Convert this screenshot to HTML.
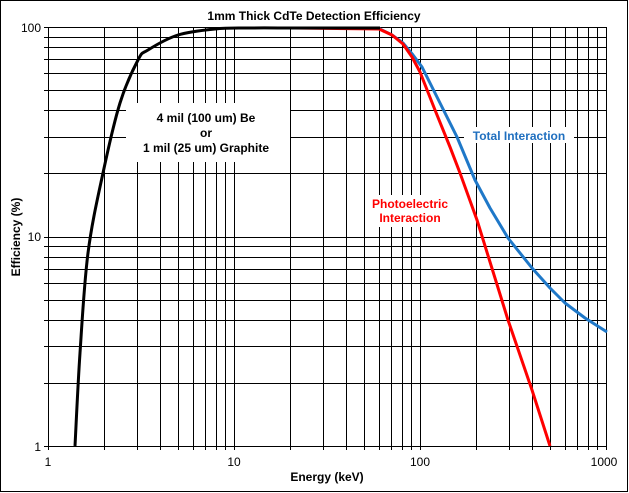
<!DOCTYPE html>
<html><head><style>
html,body{margin:0;padding:0;background:#fff;width:629px;height:493px;overflow:hidden}
svg{display:block;font-family:"Liberation Sans",Arial,sans-serif}
</style></head><body>
<svg id="s" width="629" height="493" viewBox="0 0 629 493">
<rect x="0.5" y="0.5" width="627" height="491" fill="#fff" stroke="#000" stroke-width="1"/>
<g id="grid" stroke="#000" stroke-width="1"></g>
<text x="314" y="20" font-size="12" font-weight="bold" text-anchor="middle">1mm Thick CdTe Detection Efficiency</text>
<text x="41" y="32" font-size="12" text-anchor="end" fill="#000">100</text>
<text x="41" y="241" font-size="12" text-anchor="end">10</text>
<text x="41" y="451" font-size="12" text-anchor="end">1</text>
<text x="48" y="466" font-size="12" text-anchor="middle">1</text>
<text x="234" y="466" font-size="12" text-anchor="middle">10</text>
<text x="420" y="466" font-size="12" text-anchor="middle">100</text>
<text x="604" y="466" font-size="12" text-anchor="middle">1000</text>
<text x="327" y="481" font-size="12" font-weight="bold" text-anchor="middle">Energy (keV)</text>
<text transform="translate(20,237) rotate(-90)" font-size="12" font-weight="bold" text-anchor="middle">Efficiency (%)</text>
<rect x="126" y="103" width="164" height="59" fill="#fff"/>
<text x="206" y="122" font-size="12" font-weight="bold" text-anchor="middle">4 mil (100 um) Be</text>
<text x="206" y="137" font-size="12" font-weight="bold" text-anchor="middle">or</text>
<text x="206" y="152" font-size="12" font-weight="bold" text-anchor="middle">1 mil (25 um) Graphite</text>
<rect x="464" y="127" width="110" height="16" fill="#fff"/>
<text x="519" y="140" font-size="12" font-weight="bold" fill="#1f6fbf" text-anchor="middle">Total Interaction</text>
<rect x="366" y="195" width="90" height="32" fill="#fff"/>
<text x="410" y="208" font-size="12" font-weight="bold" fill="#ff0000" text-anchor="middle">Photoelectric</text>
<text x="410" y="222" font-size="12" font-weight="bold" fill="#ff0000" text-anchor="middle">Interaction</text>
<polyline points="378,28 392,35 403,43 413,55 422,67 440,103 457,137 475,180 490,208 508,238 532,268 550,288 565,303 585,318 607,332" fill="none" stroke="#1f78c8" stroke-width="3" stroke-linejoin="round"/>
<polyline points="295,28 379,29 392,35 403,44 412,57 420,72 435,110 450,147 460,173 477,220 508,320 532,390 550,446" fill="none" stroke="#ff0000" stroke-width="3" stroke-linejoin="round"/>
<path id="blk" d="" fill="none" stroke="#000" stroke-width="3"/>
</svg>
<script>
var g=document.getElementById('grid'),h='';
var L=48,R=606,T=27,B=446;
for(var d=0;d<3;d++)for(var k=1;k<10;k++){var x=Math.round(L+186*(d+Math.log10(k)))+.5;h+='<line x1="'+x+'" y1="'+T+'" x2="'+x+'" y2="'+(B+4)+'"/>';}
h+='<line x1="'+(R+.5)+'" y1="'+T+'" x2="'+(R+.5)+'" y2="'+(B+4)+'"/>';
for(var d=0;d<2;d++)for(var k=1;k<10;k++){var y=Math.round(B-209.5*(d+Math.log10(k)))+.5;h+='<line x1="'+(L-4)+'" y1="'+y+'" x2="'+R+'" y2="'+y+'"/>';}
h+='<line x1="'+(L-4)+'" y1="'+(T+.5)+'" x2="'+R+'" y2="'+(T+.5)+'"/>';
g.innerHTML=h;
var P=[[75,446],[80,353],[88,253],[103,173],[120,103],[138,60],[148,50],[178,35],[215,29],[248,28],[300,28],[380,28]];
var d='M'+P[0][0]+','+P[0][1];
for(var i=0;i<P.length-1;i++){var p0=P[Math.max(0,i-1)],p1=P[i],p2=P[i+1],p3=P[Math.min(P.length-1,i+2)];
d+=' C'+(p1[0]+(p2[0]-p0[0])/6)+','+(p1[1]+(p2[1]-p0[1])/6)+' '+(p2[0]-(p3[0]-p1[0])/6)+','+(p2[1]-(p3[1]-p1[1])/6)+' '+p2[0]+','+p2[1];}
document.getElementById('blk').setAttribute('d',d);
</script>
</body></html>
